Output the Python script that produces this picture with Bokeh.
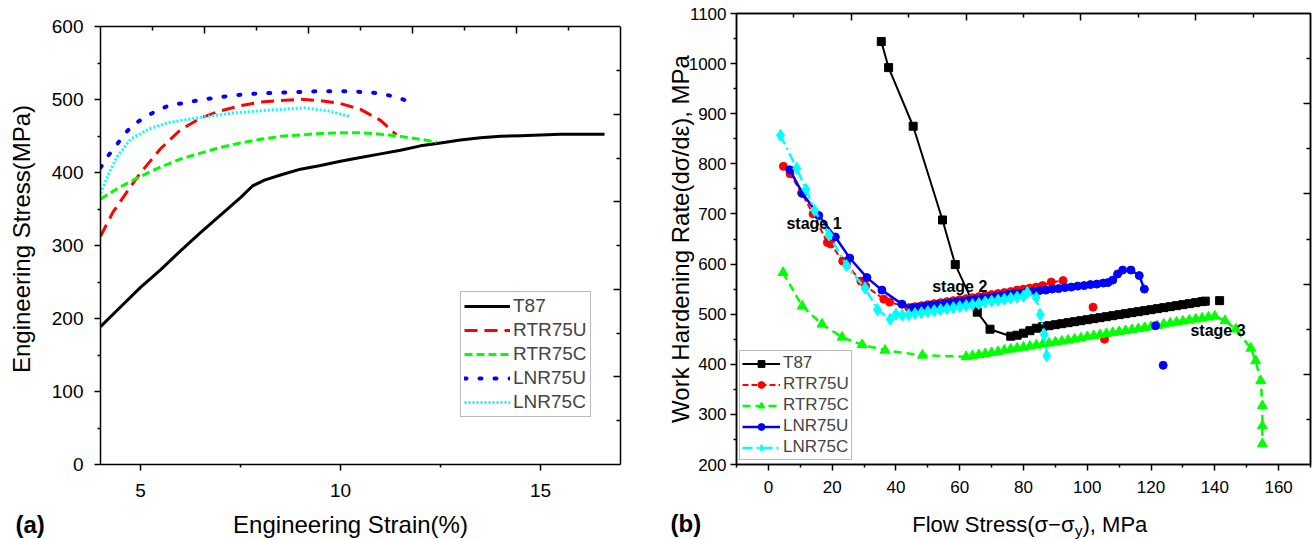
from bokeh.plotting import figure
from bokeh.layouts import row, column
from bokeh.models import LinearAxis, FixedTicker, Legend, LegendItem, Label, CustomJSTickFormatter, Range1d
from bokeh.embed import file_html
from bokeh.resources import INLINE

FONT = "Liberation Sans"

# ---------------- panel (a): engineering stress-strain ----------------
a_T87_x = [4.0, 4.5, 5.0, 5.5, 6.0, 6.5, 7.0, 7.5, 7.8, 8.1, 8.5, 9.0, 9.5, 10.0, 10.5, 11.0, 11.5,
           12.0, 12.5, 13.0, 13.5, 14.0, 14.5, 15.0, 15.5, 16.0, 16.6]
a_T87_y = [189, 216, 243, 267, 293, 318, 342, 366, 382, 390, 397, 405, 410, 416, 421, 426, 431,
           437, 441, 445, 448, 450, 451, 452, 453, 453, 453]
a_RTR75U_x = [4.0, 4.3, 4.7, 5.0, 5.5, 6.0, 6.5, 7.0, 7.5, 8.0, 8.5, 9.0, 9.5, 10.0, 10.5, 11.0, 11.4]
a_RTR75U_y = [313, 345, 377, 400, 433, 459, 475, 485, 492, 497, 499, 501, 499, 495, 487, 472, 452]
a_RTR75C_x = [4.0, 4.5, 5.0, 5.5, 6.0, 6.5, 7.0, 7.5, 8.0, 8.5, 9.0, 9.5, 10.0, 10.5, 11.0, 11.5, 12.0, 12.4]
a_RTR75C_y = [364, 381, 395, 408, 419, 427, 435, 441, 446, 450, 452, 454, 455, 455, 453, 450, 446, 442]
a_LNR75U_x = [4.0, 4.2, 4.4, 4.6, 4.8, 5.1, 5.4, 5.7, 6.1, 6.5, 7.0, 7.5, 8.0, 8.5, 9.0, 9.5, 10.0,
              10.5, 11.0, 11.3, 11.6]
a_LNR75U_y = [407, 424, 438, 453, 465, 476, 485, 492, 496, 500, 504, 507, 509, 510, 511, 512, 512,
              511, 509, 505, 500]
a_LNR75C_x = [4.0, 4.2, 4.4, 4.75, 5.2, 5.7, 6.5, 7.3, 8.2, 9.1, 9.7, 10.25]
a_LNR75C_y = [372, 398, 421, 446, 460, 469, 476, 482, 486, 489, 485, 477]

# ---------------- panel (b): work hardening rate ----------------
b_T87_x = [35.4, 37.7, 45.4, 54.6, 58.6, 65.5, 69.5, 76, 78, 80, 82, 84, 86, 88, 90, 92, 94, 96, 98,
           100, 102, 104, 106, 108, 110, 112, 114, 116, 118, 120, 122, 124, 126, 128, 130, 132, 134,
           136, 137]
b_T87_y = [1044, 992, 875, 688, 599, 504, 470, 456, 458, 462, 467, 472, 475, 477, 479, 481, 483, 485,
           487, 489, 491, 493, 495, 497, 499, 501, 503, 505, 507, 509, 511, 513, 515, 517, 519, 521,
           523, 525, 526]
b_T87_extra_x = [141.5]
b_T87_extra_y = [527]

b_RTR75U_x = [4.7, 6.8, 10.4, 14.0, 18.5, 19.6, 23.3, 24.5, 29.0, 30.5, 36.2, 38.0, 44.0, 46, 48, 50,
              52, 54, 56, 58, 60, 62, 64, 66, 68, 70, 72, 74, 76, 78, 80, 82, 84, 86, 88.7, 92.4]
b_RTR75U_y = [795, 780, 742, 700, 643, 640, 606, 600, 566, 556, 530, 524, 513, 515, 517, 519, 521, 523,
              525, 527, 529, 531, 533, 535, 537, 539, 541, 543, 545, 548, 550, 552, 554, 557, 564, 567]
b_RTR75U_extra_x = [101.8, 105.4]
b_RTR75U_extra_y = [514, 450]

b_RTR75C_x = [4.6, 10.6, 16.8, 23.1, 29.4, 36.6, 48.3, 62, 64, 66, 68, 70, 72, 74, 76, 78, 80, 82, 84,
              86, 88, 90, 92, 94, 96, 98, 100, 102, 104, 106, 108, 110, 112, 114, 116, 118, 120, 122,
              124, 126, 128, 130, 132, 134, 136, 138, 140, 143.2, 146.6, 151.3, 152.8, 154.4, 154.9,
              154.9, 154.9]
b_RTR75C_y = [583, 516, 480, 454, 439, 428, 418, 415, 417, 419, 421, 423, 425, 428, 430, 432, 434, 436,
              438, 440, 442, 444, 446, 448, 450, 452, 455, 457, 459, 461, 463, 465, 467, 469, 471, 473,
              475, 477, 480, 482, 484, 486, 488, 490, 492, 494, 496, 487, 470, 432, 407, 367, 317, 277,
              241]

b_LNR75U_x = [6.7, 10.7, 15.8, 21.0, 25.5, 30.9, 35.6, 41.9, 45.0, 47, 49, 51, 53, 55, 57, 59, 61, 63,
              65, 67, 69, 71, 73, 75, 77, 79, 81, 83, 85, 87, 89, 91, 93, 95, 97, 99, 101, 103, 105,
              106.5, 108, 109.5, 111.1, 113.7, 116.3, 117.9]
b_LNR75U_y = [788, 741, 697, 654, 612, 573, 548, 520, 513, 514, 516, 518, 519, 521, 523, 525, 526, 528,
              530, 532, 533, 535, 537, 539, 541, 542, 544, 545, 547, 548, 550, 551, 553, 554, 556, 557,
              559, 560, 562, 563, 568, 580, 588, 588, 577, 550]
b_LNR75U_extra_x = [121.4, 123.8]
b_LNR75U_extra_y = [477, 398]

b_LNR75C_x = [3.8, 8.9, 11.8, 14.5, 19.0, 24.5, 30.3, 34.2, 38.2, 40, 42, 44, 46, 48, 50, 52, 54, 56,
              58, 60, 62, 64, 66, 68, 70, 72, 74, 76, 78, 80, 81.2, 84.0, 85.3, 86.5, 87.3]
b_LNR75C_y = [857, 791, 749, 707, 658, 597, 552, 509, 490, 500, 498, 499, 501, 503, 505, 507, 509, 511,
              513, 515, 517, 519, 521, 524, 526, 528, 530, 532, 534, 536, 543, 533, 499, 459, 417]

legend_labels = ["T87", "RTR75U", "RTR75C", "LNR75U", "LNR75C"]
colors = ["black", "#ff0000", "#00ff00", "#0000ff", "#00ffff"]

# tick positions
a_x_major, a_x_minor = [5, 10, 15], [7.5, 12.5]
a_y_major, a_y_minor = [0, 100, 200, 300, 400, 500, 600], [50, 150, 250, 350, 450, 550]
a_top_major, a_top_minor = [6.6, 9.2, 11.8, 14.4], [5.3, 7.9, 10.5, 13.1, 15.7]
a_right_major, a_right_minor = [120, 240, 360, 480], [60, 180, 300, 420, 540]
b_x_major = [0, 20, 40, 60, 80, 100, 120, 140, 160]
b_x_minor = [-10, 10, 30, 50, 70, 90, 110, 130, 150, 170]
b_y_major = [200, 300, 400, 500, 600, 700, 800, 900, 1000, 1100]
b_y_minor = [250, 350, 450, 550, 650, 750, 850, 950, 1050]
b_top_major, b_top_minor = [26, 62, 98, 134], [8, 44, 80, 116, 152]
b_right_major, b_right_minor = [380, 560, 740, 920], [290, 470, 650, 830, 1010]

A_YMAX = 600      # top of panel (a) box; the frame extends a little above it


def style_axis(ax, major, minor, label_size="18px", standoff=7):
    ax.ticker = FixedTicker(ticks=major, minor_ticks=minor)
    ax.axis_line_width = 1.5
    ax.axis_line_color = "black"
    ax.major_tick_line_width = 1.5
    ax.minor_tick_line_width = 1.5
    ax.major_tick_line_color = "black"
    ax.minor_tick_line_color = "black"
    ax.major_tick_out = 6
    ax.major_tick_in = 0
    ax.minor_tick_out = 3
    ax.minor_tick_in = 0
    ax.major_label_text_font = FONT
    ax.major_label_text_font_size = label_size
    ax.major_label_text_color = "black"
    ax.major_label_standoff = standoff
    ax.axis_label_text_font = FONT
    ax.axis_label_text_font_style = "normal"
    ax.axis_label_text_color = "black"


def mirror_axis(p, side, major, minor, **kw):
    ax = LinearAxis(ticker=FixedTicker(ticks=major, minor_ticks=minor),
                    formatter=CustomJSTickFormatter(code="return ''"), **kw)
    ax.axis_line_width = 1.5
    ax.major_tick_line_width = 1.5
    ax.minor_tick_line_width = 1.5
    ax.major_tick_in = 7
    ax.major_tick_out = 0
    ax.minor_tick_in = 4
    ax.minor_tick_out = 0
    ax.major_label_text_font_size = "0px"
    ax.major_label_standoff = 0
    p.add_layout(ax, side)


# ================= panel (a) =================
p1 = figure(width=645, height=508, x_range=(4, 17), y_range=(0, 618.5), title=None,
            output_backend="svg", toolbar_location=None,
            min_border_left=100, min_border_right=25, min_border_top=13, min_border_bottom=44)
p1.grid.visible = False
p1.outline_line_color = None
style_axis(p1.xaxis[0], a_x_major, a_x_minor, label_size="19px", standoff=13)
style_axis(p1.yaxis[0], a_y_major, a_y_minor, label_size="19px", standoff=11)
p1.yaxis[0].bounds = (0, A_YMAX)
p1.yaxis[0].axis_label = "Engineering Stress(MPa)"
p1.yaxis[0].axis_label_text_font_size = "24px"
p1.yaxis[0].axis_label_standoff = 14
mirror_axis(p1, "above", a_top_major, a_top_minor, fixed_location=A_YMAX)
mirror_axis(p1, "right", a_right_major, a_right_minor, bounds=(0, A_YMAX))

r_a = [
    p1.line(a_T87_x, a_T87_y, line_color=colors[0], line_width=3),
    p1.line(a_RTR75U_x, a_RTR75U_y, line_color=colors[1], line_width=3, line_dash="13 7"),
    p1.line(a_RTR75C_x, a_RTR75C_y, line_color=colors[2], line_width=3, line_dash="8 4"),
    p1.line(a_LNR75U_x, a_LNR75U_y, line_color=colors[3], line_width=4, line_dash="2 13", line_cap="round"),
    p1.line(a_LNR75C_x, a_LNR75C_y, line_color=colors[4], line_width=3, line_dash="2 2"),
]
leg1 = Legend(items=[LegendItem(label=l, renderers=[r]) for l, r in zip(legend_labels, r_a)],
              location=(360, 47))
leg1.label_text_font = FONT
leg1.label_text_font_size = "19px"
leg1.glyph_width = 46
leg1.glyph_height = 20
leg1.label_height = 20
leg1.label_standoff = 3
leg1.spacing = 2
leg1.padding = 3
leg1.margin = 0
leg1.border_line_color = "#777777"
leg1.border_line_width = 1
p1.add_layout(leg1)

# ================= panel (b) =================
p2 = figure(width=667, height=508, x_range=(-10, 170), y_range=(200, 1100), title=None,
            output_backend="svg", toolbar_location=None,
            min_border_left=91, min_border_right=2, min_border_top=13, min_border_bottom=44)
p2.grid.visible = False
p2.outline_line_color = "black"
p2.outline_line_width = 1.5
style_axis(p2.xaxis[0], b_x_major, b_x_minor, label_size="17px", standoff=10)
style_axis(p2.yaxis[0], b_y_major, b_y_minor, label_size="17px", standoff=4)
p2.yaxis[0].axis_label = "Work Hardening Rate(dσ/dε), MPa"
p2.yaxis[0].axis_label_text_font_size = "24px"
p2.yaxis[0].axis_label_standoff = -8
mirror_axis(p2, "above", b_top_major, b_top_minor)
mirror_axis(p2, "right", b_right_major, b_right_minor)

l0 = p2.line(b_T87_x, b_T87_y, line_color=colors[0], line_width=2)
s0 = p2.scatter(b_T87_x, b_T87_y, marker="square", size=8, color=colors[0])
p2.scatter(b_T87_extra_x, b_T87_extra_y, marker="square", size=8, color=colors[0])

l1 = p2.line(b_RTR75U_x, b_RTR75U_y, line_color=colors[1], line_width=2, line_dash="6 3")
s1 = p2.scatter(b_RTR75U_x, b_RTR75U_y, marker="circle", size=8, color=colors[1])
p2.scatter(b_RTR75U_extra_x, b_RTR75U_extra_y, marker="circle", size=8, color=colors[1])

l2 = p2.line(b_RTR75C_x, b_RTR75C_y, line_color=colors[2], line_width=2.5, line_dash="8 5")
s2 = p2.scatter(b_RTR75C_x, b_RTR75C_y, marker="triangle", size=10, color=colors[2])

l3 = p2.line(b_LNR75U_x, b_LNR75U_y, line_color=colors[3], line_width=2.5)
s3 = p2.scatter(b_LNR75U_x, b_LNR75U_y, marker="circle", size=8, color=colors[3])
p2.scatter(b_LNR75U_extra_x, b_LNR75U_extra_y, marker="circle", size=8, color=colors[3])

l4 = p2.line(b_LNR75C_x, b_LNR75C_y, line_color=colors[4], line_width=2.5, line_dash="10 4 2 4")
s4 = p2.scatter(b_LNR75C_x, b_LNR75C_y, marker="diamond", size=12, color=colors[4])

leg2 = Legend(items=[LegendItem(label=l, renderers=rs) for l, rs in
                     zip(legend_labels, [[l0, s0], [l1, s1], [l2, s2], [l3, s3], [l4, s4]])],
              location=(3, 4))
leg2.label_text_font = FONT
leg2.label_text_font_size = "17px"
leg2.glyph_width = 38
leg2.glyph_height = 17
leg2.label_height = 17
leg2.label_standoff = 3
leg2.spacing = 1
leg2.padding = 2
leg2.margin = 0
leg2.border_line_color = "#777777"
leg2.border_line_width = 1
p2.add_layout(leg2)

for txt, x, y in [("stage 1", 14.3, 680), ("stage 2", 60.0, 555), ("stage 3", 141.0, 467)]:
    p2.add_layout(Label(x=x, y=y, text=txt, text_font=FONT, text_font_size="16px",
                        text_font_style="bold", text_color="black",
                        text_align="center", text_baseline="middle"))

# ================= bottom strip: axis titles and panel letters =================
STRIP_W, STRIP_H = 1312, 31
strip = figure(width=STRIP_W, height=STRIP_H, x_range=Range1d(0, STRIP_W), y_range=Range1d(STRIP_H, 0),
               title=None, x_axis_type=None, y_axis_type=None, output_backend="svg",
               toolbar_location=None, min_border=0)
strip.grid.visible = False
strip.outline_line_color = None

strip_texts = [
    ("(a)", 15, 16, "24px", "bold", "left"),
    ("Engineering Strain(%)", 350, 16, "24px", "normal", "center"),
    ("(b)", 670, 15, "24px", "bold", "left"),
    ("Flow Stress(σ−σ", 1074, 16, "22px", "normal", "right"),
    ("y", 1074.5, 22, "15px", "normal", "left"),
    ("), MPa", 1082, 16, "22px", "normal", "left"),
]
for txt, x, y, fs, fst, al in strip_texts:
    strip.add_layout(Label(x=x, y=y, text=txt, text_font=FONT, text_font_size=fs,
                           text_font_style=fst, text_color="black",
                           text_align=al, text_baseline="middle"))

layout = column(row(p1, p2), strip)
open("out.html", "w").write(file_html(layout, INLINE))
